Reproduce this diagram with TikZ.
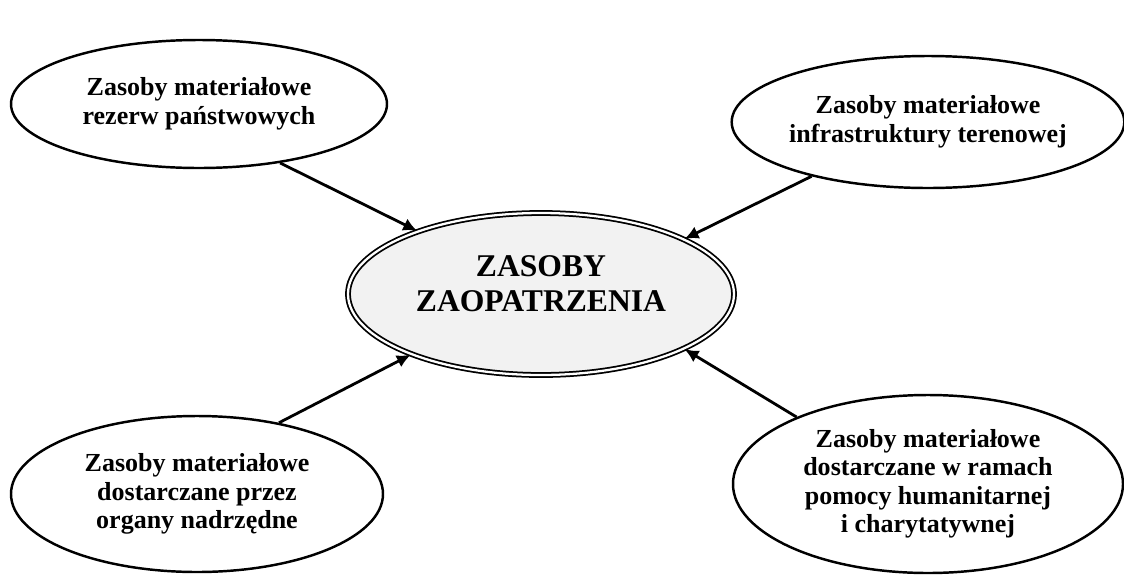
\documentclass[tikz,border=0pt]{standalone}
\usepackage{fontspec}
\setmainfont{Liberation Serif}
\usetikzlibrary{shapes.geometric,arrows.meta}
\begin{document}
\begin{tikzpicture}[
  bubble/.style={ellipse, draw=black, line width=1.4pt, fill=white, inner sep=0pt, align=center,
    font=\fontsize{14.8}{16.2}\selectfont\bfseries},
  hub/.style={ellipse, draw=black, line width=1.0pt, double=white, double distance=1.3pt,
    fill=black!5, inner sep=0pt},
  hubtext/.style={align=center, inner sep=0pt, font=\fontsize{18}{20}\selectfont\bfseries},
  link/.style={line width=1.6pt, -{Latex[length=8pt,width=7.5pt]}}
]
\useasboundingbox (0,0) rectangle (22.48,-11.54);
\node[hub, minimum width=7.72cm, minimum height=3.24cm] (c) at (10.82,-5.88) {};
\node[hubtext] (ct) at ([yshift=0.2cm]c.center) {ZASOBY\\ZAOPATRZENIA};
\node[bubble, minimum width=7.52cm, minimum height=2.56cm] (tl) at (3.98,-2.08) {Zasoby materiałowe\\rezerw państwowych};
\node[bubble, minimum width=7.72cm, minimum height=2.64cm] (tr) at (18.56,-2.44) {Zasoby materiałowe\\infrastruktury terenowej};
\node[bubble, minimum width=7.44cm, minimum height=3.12cm] (bl) at (3.94,-9.88) {Zasoby materiałowe\\dostarczane przez\\organy nadrzędne};
\node[bubble, minimum width=7.80cm, minimum height=3.56cm] (br) at (18.56,-9.68) {Zasoby materiałowe\\dostarczane w ramach\\pomocy humanitarnej\\i charytatywnej};
\draw[link] (tl.-36.5) -- (c.153.4);
\draw[link] (tr.205.3) -- (c.21.2);
\draw[link] (bl.41) -- (c.205.8);
\draw[link] (br.153.4) -- (c.-21.2);
\end{tikzpicture}
\end{document}
